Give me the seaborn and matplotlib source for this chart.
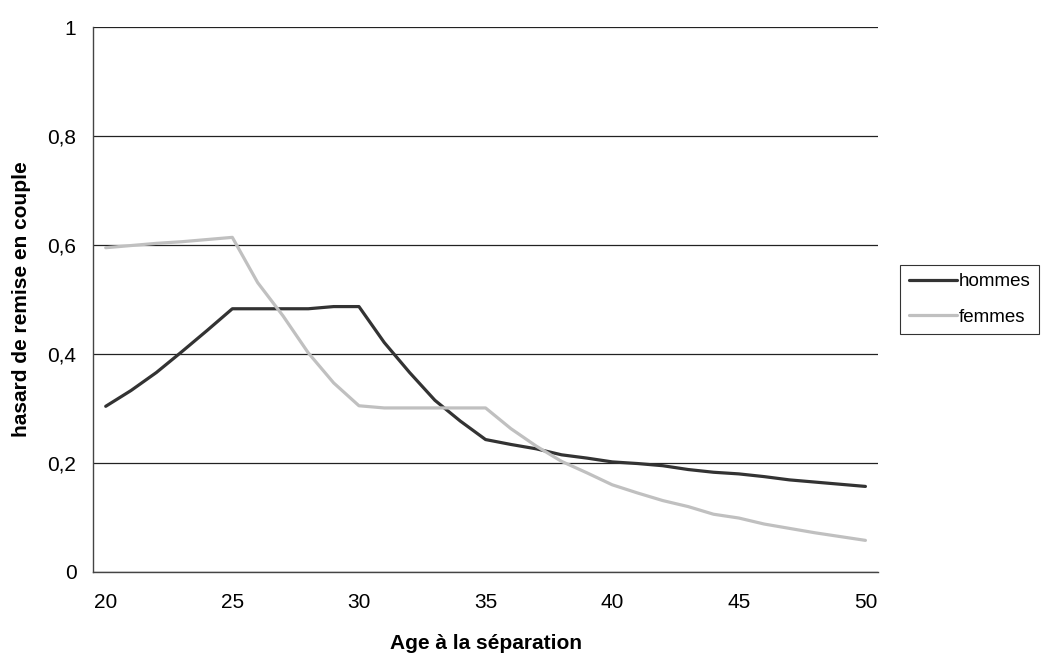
import matplotlib
matplotlib.use("Agg")
import matplotlib.pyplot as plt
import pandas as pd
import seaborn as sns

# âges à la séparation (une catégorie par année)
ages = list(range(20, 51))

hommes = [0.304, 0.333, 0.366, 0.404, 0.443, 0.483, 0.483, 0.483, 0.483, 0.487,
          0.487, 0.421, 0.366, 0.315, 0.277, 0.243, 0.234, 0.226, 0.215, 0.209,
          0.202, 0.199, 0.195, 0.188, 0.183, 0.180, 0.175, 0.169, 0.165, 0.161,
          0.157]
femmes = [0.595, 0.599, 0.603, 0.606, 0.610, 0.614, 0.531, 0.470, 0.402, 0.347,
          0.305, 0.301, 0.301, 0.301, 0.301, 0.301, 0.263, 0.231, 0.203, 0.182,
          0.160, 0.145, 0.131, 0.120, 0.106, 0.099, 0.088, 0.080, 0.072, 0.065,
          0.058]

x_labels = [20, 25, 30, 35, 40, 45, 50]
y_ticks = [0, 0.2, 0.4, 0.6, 0.8, 1]
y_labels = ['0', '0,2', '0,4', '0,6', '0,8', '1']

df = pd.DataFrame({'age': ages * 2,
                   'hasard': hommes + femmes,
                   'sexe': ['hommes'] * len(ages) + ['femmes'] * len(ages)})

sns.set_style('white')
plt.rcParams['font.family'] = ['Liberation Sans', 'DejaVu Sans']
plt.rcParams['text.color'] = 'black'
plt.rcParams['axes.labelcolor'] = 'black'
plt.rcParams['xtick.labelcolor'] = 'black'
plt.rcParams['ytick.labelcolor'] = 'black'

fig = plt.figure(figsize=(10.42, 6.57), dpi=100)
ax = fig.add_axes([0.0893, 0.1294, 0.7534, 0.8295])

sns.lineplot(data=df, x='age', y='hasard', hue='sexe', ax=ax,
             palette={'hommes': '#333333', 'femmes': '#c0c0c0'},
             linewidth=2.3, legend=True)

ax.set_xlim(19.5, 50.5)
ax.set_ylim(0, 1)

# axe de catégories : graduations entre les catégories, étiquettes au centre
ax.set_xticks([a - 0.5 for a in x_labels])
ax.set_xticklabels([])
ax.set_xticks(x_labels, minor=True)
ax.set_xticklabels([str(a) for a in x_labels], minor=True)
ax.tick_params(axis='x', which='major', direction='out', length=5, width=1, color='#444444')
ax.tick_params(axis='x', which='minor', length=0, pad=15, labelsize=15)

ax.set_yticks(y_ticks)
ax.set_yticklabels(y_labels)
ax.tick_params(axis='y', direction='out', length=5, width=1, color='#444444', pad=7, labelsize=15)

ax.grid(axis='y', color='#222222', linewidth=0.9)
ax.set_axisbelow(True)
for s in ['top', 'right']:
    ax.spines[s].set_visible(False)
for s in ['left', 'bottom']:
    ax.spines[s].set_color('#444444')
    ax.spines[s].set_linewidth(1)

ax.set_xlabel('Age à la séparation', fontweight='bold', fontsize=15, labelpad=16)
ax.set_ylabel('hasard de remise en couple', fontweight='bold', fontsize=15, labelpad=12)

leg = ax.legend(loc='center left', bbox_to_anchor=(1.028, 0.5), frameon=True,
                fancybox=False, edgecolor='black', fontsize=13.5, handlelength=2.6,
                handletextpad=0.1, borderpad=0.45, labelspacing=1.0, borderaxespad=0)
leg.get_frame().set_linewidth(0.8)

fig.savefig('out.png', dpi=100)
